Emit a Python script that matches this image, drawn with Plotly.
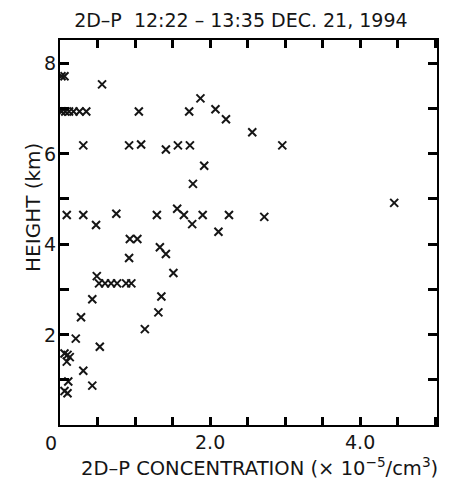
import plotly.graph_objects as go

# 2D-P concentration (x 1e-5 / cm^3) and height (km)
conc = [
    0.02, 0.06, 0.56,
    0.02, 0.07, 0.12, 0.18, 0.26, 0.35, 1.05,
    0.31, 0.92, 1.08, 1.41,
    1.87, 1.72, 2.07, 2.21, 2.56, 2.96, 1.57, 1.73, 1.92, 1.77,
    0.09, 0.31, 0.48, 0.75, 1.29, 1.56, 1.65, 1.76, 1.90, 2.25, 2.11, 2.72, 4.45,
    0.93, 1.03, 0.92, 1.33, 1.41, 1.51,
    0.49, 0.52, 0.60, 0.68, 0.76, 0.88, 0.95,
    0.43, 1.35, 1.31, 1.13,
    0.28, 0.21, 0.53,
    0.06, 0.10, 0.13, 0.09, 0.31, 0.11, 0.43, 0.06, 0.10,
]
height = [
    7.71, 7.71, 7.53,
    6.93, 6.93, 6.93, 6.93, 6.93, 6.93, 6.93,
    6.18, 6.18, 6.20, 6.09,
    7.22, 6.93, 6.98, 6.76, 6.47, 6.18, 6.18, 6.18, 5.73, 5.33,
    4.64, 4.64, 4.42, 4.67, 4.64, 4.78, 4.64, 4.44, 4.64, 4.64, 4.27, 4.60, 4.91,
    4.11, 4.11, 3.69, 3.93, 3.78, 3.36,
    3.29, 3.13, 3.13, 3.13, 3.13, 3.13, 3.13,
    2.78, 2.84, 2.49, 2.12,
    2.38, 1.91, 1.73,
    1.58, 1.55, 1.50, 1.40, 1.20, 0.96, 0.87, 0.75, 0.70,
]

# labelled ticks
x_label_vals = [2, 4]
x_label_text = ["2.0", "4.0"]
y_label_vals = [2, 4, 6, 8]
y_label_text = ["2", "4", "6", "8"]

FONT = "DejaVu Sans, Liberation Sans, Arial, sans-serif"
INK = "#151515"

fig = go.Figure()
fig.add_trace(go.Scatter(
    x=conc, y=height, mode="markers",
    marker=dict(symbol="x-thin", size=8, color=INK,
                line=dict(width=2, color=INK)),
    showlegend=False, hoverinfo="x+y",
))

annotations = []
for v, t in zip(x_label_vals, x_label_text):
    annotations.append(dict(text=t, xref="x", yref="paper", x=v, y=0,
                            xanchor="center", yanchor="top", yshift=-4,
                            showarrow=False, font=dict(size=19, family=FONT, color=INK)))
for v, t in zip(y_label_vals, y_label_text):
    annotations.append(dict(text=t, xref="paper", yref="y", x=0, y=v,
                            xanchor="right", yanchor="middle", xshift=-2,
                            showarrow=False, font=dict(size=19, family=FONT, color=INK)))
annotations += [
    dict(text="0", xref="x", yref="y", x=0, y=0,
         xanchor="right", yanchor="top", xshift=-1, yshift=-5,
         showarrow=False, font=dict(size=19, family=FONT, color=INK)),
    dict(text="2D\u2013P CONCENTRATION (\u00d7 10<sup>\u22125</sup>/cm<sup>3</sup>)",
         xref="paper", yref="paper", x=0.528, y=-0.11,
         xanchor="center", yanchor="middle", showarrow=False,
         font=dict(size=19.5, family=FONT, color=INK)),
    dict(text="HEIGHT (km)", textangle=-90,
         xref="paper", yref="paper", x=-0.072, y=0.566,
         xanchor="center", yanchor="middle", showarrow=False,
         font=dict(size=20, family=FONT, color=INK)),
]

fig.update_layout(
    width=465, height=482,
    margin=dict(l=60, r=28, t=40, b=57),
    paper_bgcolor="white", plot_bgcolor="white",
    font=dict(family=FONT, size=18, color=INK),
    title=dict(text="2D\u2013P  12:22 \u2013 13:35 DEC. 21, 1994",
               x=0.518, xanchor="center", y=0.957, yanchor="middle",
               font=dict(size=19, family=FONT, color=INK)),
    xaxis=dict(
        range=[0, 5.02], tickmode="linear", tick0=0, dtick=0.5,
        ticks="inside", ticklen=8, tickwidth=2.5, tickcolor="black",
        showticklabels=False,
        showline=True, linecolor="black", linewidth=2, mirror="ticks",
        showgrid=False,
    ),
    yaxis=dict(
        range=[0, 8.51], tickmode="linear", tick0=0, dtick=1,
        ticks="inside", ticklen=9, tickwidth=2.5, tickcolor="black",
        showticklabels=False,
        showline=True, linecolor="black", linewidth=2, mirror="ticks",
        showgrid=False,
    ),
    annotations=annotations,
)

fig.write_html("out.html")
